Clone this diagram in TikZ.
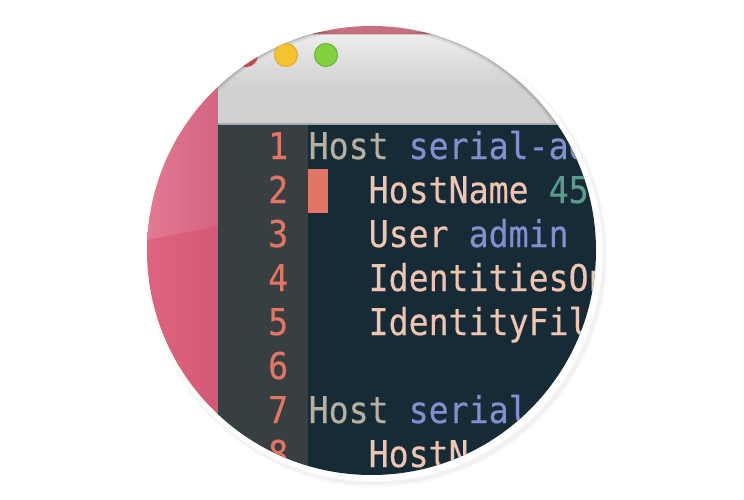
\documentclass[tikz,border=0pt]{standalone}
\usepackage{fontspec}
\newfontfamily\codefont[FakeStretch=0.9,FakeBold=0.35]{DejaVu Sans Mono}
\definecolor{pinkLight}{HTML}{E27A92}
\definecolor{pinkDark}{HTML}{DF637F}
\definecolor{pinkEdge}{HTML}{D26480}
\definecolor{pinkEdgeLow}{HTML}{D25A76}
\definecolor{pinkBand}{HTML}{C4707E}
\definecolor{barTop}{HTML}{EEEEEE}
\definecolor{barBottom}{HTML}{D1D1D1}
\definecolor{barRule}{HTML}{A9A9A9}
\definecolor{gutterGrey}{HTML}{383F43}
\definecolor{editorBlue}{HTML}{172B37}
\definecolor{numRed}{HTML}{E27563}
\definecolor{hostTan}{HTML}{B7B09F}
\definecolor{nameBlue}{HTML}{7F8FCF}
\definecolor{keyPeach}{HTML}{EFC5B2}
\definecolor{valueGreen}{HTML}{5A9C8C}
\definecolor{closeRed}{HTML}{C04848}
\definecolor{minYellow}{HTML}{F3C42F}
\definecolor{minEdge}{HTML}{E5A92A}
\definecolor{zoomGreen}{HTML}{82D13F}
\definecolor{zoomEdge}{HTML}{66B238}
\begin{document}
\begin{tikzpicture}[x=1pt, y=-1pt]
    \tikzstyle{num} = [anchor=base west, inner sep=0pt, text=numRed, font=\codefont\fontsize{36.9}{44}\selectfont]
    \tikzstyle{code} = [anchor=base west, inner sep=0pt, font=\codefont\fontsize{36.9}{44}\selectfont]
    \tikzstyle{light} = [draw, circle, line width=1pt, minimum size=23pt, inner sep=0pt]

    \useasboundingbox (0,0) rectangle (744,500);
    \fill[white] (0,0) rectangle (744,500);

    % ring and its shadow
    \fill[black!2] (376,256) circle (231);
    \fill[black!5] (376,255.5) circle (230);
    \fill[white] (373.5,252.5) circle (229);

    \begin{scope}
        \clip (371.5,250.5) circle (224.5);

        % desktop behind the window
        \shade[left color=pinkLight, right color=pinkEdge] (147,26) rectangle (218,240);
        \shade[left color=pinkDark, right color=pinkEdgeLow] (147,240) -- (218,226) -- (218,476) -- (147,476) -- cycle;
        \fill[pinkBand] (218,20) rectangle (440,40);

        % title bar
        \shade[top color=barTop, bottom color=barBottom] (218,33) .. controls (320,35) and (420,35) .. (600,33) -- (600,85) -- (218,85) -- cycle;
        \fill[barBottom] (218,85) rectangle (600,123);
        \begin{scope}
            \clip (218,33) rectangle (600,123);
            \draw[black, opacity=.07, line width=7pt] (371.5,250.5) circle (224.5);
            \draw[black, opacity=.12, line width=3pt] (371.5,250.5) circle (224.5);
        \end{scope}
        \fill[barRule] (218,123) rectangle (600,125);

        \node[light, fill=closeRed, draw=closeRed] (closeBtn) at (246,55) {};
        \node[light, fill=minYellow, draw=minEdge] (minBtn) at (286,55) {};
        \node[light, fill=zoomGreen, draw=zoomEdge] (zoomBtn) at (326,55) {};

        % gutter and editor
        \fill[gutterGrey] (218,125) rectangle (308,480);
        \fill[editorBlue] (308,125) rectangle (600,480);
        \fill[numRed] (308,169) rectangle (328,213);

        \node[num] (num1) at (268,159) {1};
        \node[num] (num2) at (268,203) {2};
        \node[num] (num3) at (268,247) {3};
        \node[num] (num4) at (268,291) {4};
        \node[num] (num5) at (268,335) {5};
        \node[num] (num6) at (268,379) {6};
        \node[num] (num7) at (268,423) {7};
        \node[num] (num8) at (268,467) {8};

        \node[code, text=hostTan] (host1) at (308.5,159) {Host};
        \node[code, text=nameBlue] (alias1) at (408.5,159) {serial-ad};
        \node[code, text=keyPeach] (hostName) at (368.5,203) {HostName};
        \node[code, text=valueGreen] (address) at (548.5,203) {45};
        \node[code, text=keyPeach] (user) at (368.5,247) {User};
        \node[code, text=nameBlue] (admin) at (468.5,247) {admin};
        \node[code, text=keyPeach] (identOnly) at (368.5,291) {IdentitiesOn};
        \node[code, text=keyPeach] (identFile) at (368.5,335) {IdentityFil};
        \node[code, text=hostTan] (host2) at (308.5,423) {Host};
        \node[code, text=nameBlue] (alias2) at (408.5,423) {serial};
        \node[code, text=keyPeach] (hostName2) at (368.5,467) {HostN};
    \end{scope}
\end{tikzpicture}
\end{document}
